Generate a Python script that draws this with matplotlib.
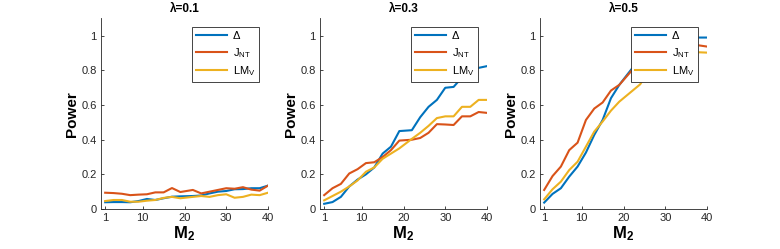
import matplotlib
matplotlib.use("Agg")
import matplotlib.pyplot as plt

plt.rcParams["font.family"] = ["Liberation Sans", "DejaVu Sans"]
plt.rcParams["mathtext.fontset"] = "custom"
plt.rcParams["mathtext.rm"] = "Liberation Sans"
plt.rcParams["mathtext.it"] = "Liberation Sans"
plt.rcParams["mathtext.bf"] = "Liberation Sans:bold"

# M2 grid (rounded linspace 1..40, 20 points)
m2 = [1, 3, 5, 7, 9, 11, 13, 15, 17, 19, 22, 24, 26, 28, 30, 32, 34, 36, 38, 40]

lambdas = ["0.1", "0.3", "0.5"]

# lambda = 0.1
delta_01 = [0.039, 0.040, 0.040, 0.039, 0.046, 0.058, 0.052, 0.062, 0.071, 0.073,
            0.075, 0.078, 0.090, 0.100, 0.104, 0.114, 0.115, 0.120, 0.120, 0.135]
jnt_01 = [0.094, 0.092, 0.088, 0.080, 0.083, 0.085, 0.096, 0.096, 0.121, 0.098,
          0.110, 0.090, 0.100, 0.110, 0.120, 0.117, 0.126, 0.112, 0.106, 0.135]
lmv_01 = [0.046, 0.052, 0.052, 0.042, 0.042, 0.048, 0.052, 0.064, 0.070, 0.062,
          0.070, 0.075, 0.070, 0.080, 0.085, 0.065, 0.070, 0.083, 0.080, 0.094]

# lambda = 0.3
delta_03 = [0.030, 0.040, 0.070, 0.130, 0.170, 0.200, 0.240, 0.320, 0.360, 0.450,
            0.455, 0.530, 0.590, 0.630, 0.700, 0.705, 0.760, 0.800, 0.815, 0.825]
jnt_03 = [0.080, 0.120, 0.145, 0.205, 0.230, 0.265, 0.270, 0.300, 0.340, 0.395,
          0.400, 0.410, 0.440, 0.490, 0.488, 0.485, 0.535, 0.535, 0.560, 0.555]
lmv_03 = [0.050, 0.075, 0.100, 0.130, 0.165, 0.215, 0.240, 0.290, 0.320, 0.350,
          0.405, 0.440, 0.480, 0.525, 0.535, 0.535, 0.590, 0.590, 0.630, 0.630]

# lambda = 0.5
delta_05 = [0.037, 0.087, 0.120, 0.187, 0.245, 0.326, 0.428, 0.514, 0.640, 0.717,
            0.810, 0.850, 0.900, 0.940, 0.960, 0.975, 0.985, 0.990, 0.990, 0.990]
jnt_05 = [0.110, 0.190, 0.245, 0.340, 0.383, 0.514, 0.580, 0.615, 0.684, 0.717,
          0.800, 0.817, 0.860, 0.900, 0.920, 0.935, 0.945, 0.950, 0.945, 0.938]
lmv_05 = [0.056, 0.114, 0.158, 0.225, 0.273, 0.360, 0.447, 0.505, 0.568, 0.620,
          0.680, 0.720, 0.800, 0.850, 0.870, 0.880, 0.890, 0.900, 0.905, 0.903]

series = [
    (delta_01, jnt_01, lmv_01),
    (delta_03, jnt_03, lmv_03),
    (delta_05, jnt_05, lmv_05),
]
labels = ["Δ", r"J$_{\mathregular{NT}}$", r"LM$_{\mathregular{V}}$"]
colors = ["#0072BD", "#D95319", "#EDB120"]
ink = "#262626"

fig = plt.figure(figsize=(7.8, 2.49), dpi=100)
lefts = [101 / 780, 320 / 780, 540 / 780]
for left, lam, ys in zip(lefts, lambdas, series):
    ax = fig.add_axes([left, 1 - 209 / 249, 167 / 780, 190.5 / 249])
    for y, lab, c in zip(ys, labels, colors):
        ax.plot(m2, y, color=c, lw=1.5, label=lab)
    ax.set_xlim(0, 40)
    ax.set_ylim(0, 1.1)
    ax.set_xticks([1, 10, 20, 30, 40])
    ax.set_yticks([0, 0.2, 0.4, 0.6, 0.8, 1])
    ax.set_yticklabels(["0", "0.2", "0.4", "0.6", "0.8", "1"])
    ax.tick_params(direction="in", length=2.5, width=0.6, colors=ink,
                   labelsize=8, pad=3)
    for s in ["top", "right"]:
        ax.spines[s].set_visible(False)
    for s in ["left", "bottom"]:
        ax.spines[s].set_color(ink)
        ax.spines[s].set_linewidth(0.6)
    ax.set_title("λ=" + lam, fontsize=8.5, fontweight="bold", pad=5)
    ax.set_xlabel(r"$\mathbf{M_2}$", fontsize=12, labelpad=1)
    ax.set_ylabel("Power", fontsize=11, fontweight="bold", labelpad=2)
    leg = ax.legend(loc="upper right", fontsize=8, fancybox=False,
                    framealpha=1, edgecolor=ink, borderaxespad=0.8,
                    handlelength=2.8, handletextpad=0.5, borderpad=0.35,
                    labelspacing=0.4)
    leg.get_frame().set_linewidth(0.6)

fig.savefig("out.png", dpi=100)
